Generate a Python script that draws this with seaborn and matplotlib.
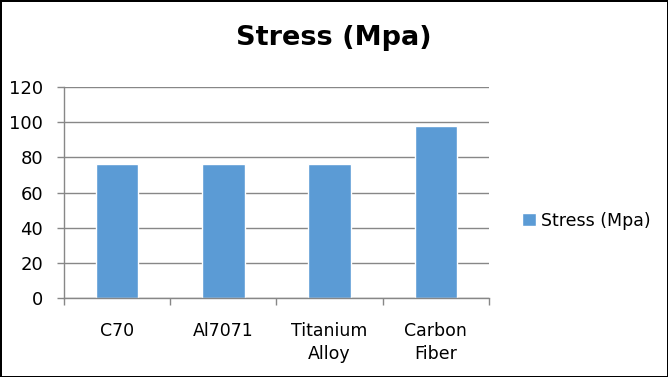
import numpy as np
import pandas as pd
import matplotlib
matplotlib.use('Agg')
import matplotlib.pyplot as plt
import seaborn as sns

# data
materials = ['C70', 'Al7071', 'Titanium\nAlloy', 'Carbon\nFiber']
stress = [76, 76, 76, 98]
series_name = 'Stress (Mpa)'

BAR_COLOR = '#5B9BD5'
GRID_COLOR = '#878787'

sns.set_theme(style='white')
plt.rcParams['font.family'] = ['DejaVu Sans']
plt.rcParams['text.color'] = 'black'
plt.rcParams['xtick.labelcolor'] = 'black'
plt.rcParams['ytick.labelcolor'] = 'black'

df = pd.DataFrame({'material': materials, 'stress': stress})

fig = plt.figure(figsize=(6.68, 3.77), dpi=100, edgecolor='black', linewidth=2)
ax = fig.add_axes([0.0958, 0.2095, 0.732 - 0.0958, 0.7692 - 0.2095])

sns.barplot(data=df, x='material', y='stress', color=BAR_COLOR, width=0.4,
            saturation=1, label=series_name, ax=ax)

ax.set_ylim(0, 120)
ax.set_yticks(np.arange(0, 121, 20))
ax.set_xlim(-0.5, len(materials) - 0.5)
ax.set_xlabel('')
ax.set_ylabel('')

# gridlines behind bars
ax.set_axisbelow(True)
ax.yaxis.grid(True, color=GRID_COLOR, linewidth=1)
ax.xaxis.grid(False)

for side in ['top', 'right']:
    ax.spines[side].set_visible(False)
for side in ['left', 'bottom']:
    ax.spines[side].set_color(GRID_COLOR)
    ax.spines[side].set_linewidth(1)

# category boundary ticks on x, small ticks on y
ax.set_xticks(np.arange(-0.5, len(materials), 1.0), minor=True)
ax.tick_params(axis='x', which='major', length=0, labelsize=12.5, pad=17, labelcolor='black')
ax.tick_params(axis='x', which='minor', bottom=True, length=5, color=GRID_COLOR, width=1)
ax.tick_params(axis='y', left=True, length=5, color=GRID_COLOR, width=1,
               labelsize=13, pad=10, labelcolor='black')
for lab in ax.get_xticklabels():
    lab.set_linespacing(1.4)
    lab.set_verticalalignment('top')

fig.suptitle(series_name, x=0.5, y=0.935, fontsize=19.5, fontweight='bold', color='black')

leg = ax.legend(loc='center left', bbox_to_anchor=(0.758, 0.415),
                bbox_transform=fig.transFigure, frameon=False, fontsize=12.5,
                handlelength=0.8, handleheight=0.8, handletextpad=0.3)
for t in leg.get_texts():
    t.set_color('black')

fig.savefig('out.png', dpi=100)
